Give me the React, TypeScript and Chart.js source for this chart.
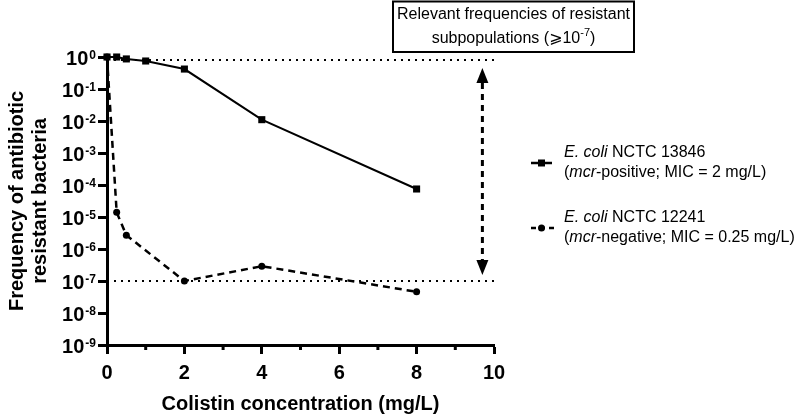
import React, { useEffect, useRef } from "react";
import { Chart, registerables } from "chart.js";

Chart.register(...registerables);

// ---- data ----
const concentrations1 = [0, 0.25, 0.5, 1, 2, 4, 8];
const freqPositive = [1, 1, 0.87, 0.75, 0.42, 0.011, 7.5e-5];
const concentrations2 = [0, 0.25, 0.5, 2, 4, 8];
const freqNegative = [1, 1.4e-5, 2.7e-6, 1e-7, 2.9e-7, 4.6e-8];
const refUpper = 0.8;
const refLower = 1e-7;
const refRange = [0, 10];
const arrowX = 9.7;
const yExponents = [0, -1, -2, -3, -4, -5, -6, -7, -8, -9];
const xMinorTicks = [1, 3, 5, 7, 9];
const xTitle = "Colistin concentration (mg/L)";
const yTitle = ["Frequency of antibiotic", "resistant bacteria"];
const boxLine1 = "Relevant frequencies of resistant";
const legend1 = { strain: "NCTC 13846", note: "-positive; MIC = 2 mg/L)" };
const legend2 = { strain: "NCTC 12241", note: "-negative; MIC = 0.25 mg/L)" };

const FONT = "'Liberation Sans', Arial, sans-serif";

function drawRuns(ctx: CanvasRenderingContext2D, runs: { t: string; f: string; dy?: number }[], x: number, y: number, align: "left" | "center") {
  let total = 0;
  for (const r of runs) { ctx.font = r.f; total += ctx.measureText(r.t).width; }
  let cx = align === "center" ? x - total / 2 : x;
  ctx.textAlign = "left";
  for (const r of runs) {
    ctx.font = r.f;
    ctx.fillText(r.t, cx, y + (r.dy || 0));
    cx += ctx.measureText(r.t).width;
  }
}

const overlayPlugin = {
  id: "overlay",
  afterDraw(chart: any) {
    const ctx: CanvasRenderingContext2D = chart.ctx;
    const xs = chart.scales.x;
    const ys = chart.scales.y;
    ctx.save();
    ctx.fillStyle = "#000";
    ctx.strokeStyle = "#000";

    // y tick labels with superscript exponents
    ctx.textBaseline = "alphabetic";
    for (const e of yExponents) {
      const py = ys.getPixelForValue(Math.pow(10, e));
      const expText = e === 0 ? "0" : "-" + Math.abs(e);
      ctx.font = `bold 12px ${FONT}`;
      const we = ctx.measureText(expText).width;
      ctx.font = `bold 20px ${FONT}`;
      const wb = ctx.measureText("10").width;
      const right = 96;
      const ex = right - we;
      ctx.textAlign = "left";
      ctx.font = `bold 20px ${FONT}`;
      ctx.fillText("10", ex - 1 - wb, py + 7.5);
      ctx.font = `bold 12px ${FONT}`;
      ctx.fillText(expText, ex, py + 2);
    }

    // minor x ticks
    ctx.lineWidth = 3;
    const bottom = chart.chartArea.bottom;
    for (const v of xMinorTicks) {
      const px = xs.getPixelForValue(v);
      ctx.beginPath();
      ctx.moveTo(px, bottom);
      ctx.lineTo(px, bottom + 5);
      ctx.stroke();
    }

    // double-headed dashed arrow
    const ax = xs.getPixelForValue(arrowX);
    const yTop = ys.getPixelForValue(refUpper) + 8;
    const yBot = ys.getPixelForValue(refLower) - 6;
    const headH = 15, headW = 6;
    ctx.lineWidth = 3;
    ctx.setLineDash([6, 5]);
    ctx.beginPath();
    ctx.moveTo(ax, yTop + headH);
    ctx.lineTo(ax, yBot - headH);
    ctx.stroke();
    ctx.setLineDash([]);
    ctx.beginPath();
    ctx.moveTo(ax, yTop);
    ctx.lineTo(ax - headW, yTop + headH);
    ctx.lineTo(ax + headW, yTop + headH);
    ctx.closePath();
    ctx.fill();
    ctx.beginPath();
    ctx.moveTo(ax, yBot);
    ctx.lineTo(ax - headW, yBot - headH);
    ctx.lineTo(ax + headW, yBot - headH);
    ctx.closePath();
    ctx.fill();

    // annotation box
    ctx.lineWidth = 2;
    ctx.strokeRect(393, 1.5, 241, 50.5);
    ctx.textBaseline = "middle";
    const bx = 513.5;
    drawRuns(ctx, [{ t: boxLine1, f: `16px ${FONT}` }], bx, 15, "center");
    drawRuns(ctx, [
      { t: "subpopulations (", f: `16px ${FONT}` },
      { t: "\u2A7E", f: `16px 'DejaVu Sans', ${FONT}` },
      { t: "10", f: `16px ${FONT}` },
      { t: "-7", f: `11px ${FONT}`, dy: -6 },
      { t: ")", f: `16px ${FONT}` },
    ], bx, 39, "center");

    // legend
    const lx0 = 531, lx1 = 552, tx = 564;
    // entry 1
    ctx.lineWidth = 2.5;
    ctx.beginPath();
    ctx.moveTo(lx0, 163);
    ctx.lineTo(lx1, 163);
    ctx.stroke();
    ctx.fillRect((lx0 + lx1) / 2 - 3.5, 163 - 3.5, 7, 7);
    drawRuns(ctx, [
      { t: "E. coli", f: `italic 16px ${FONT}` },
      { t: " " + legend1.strain, f: `16px ${FONT}` },
    ], tx, 153, "left");
    drawRuns(ctx, [
      { t: "(", f: `16px ${FONT}` },
      { t: "mcr", f: `italic 16px ${FONT}` },
      { t: legend1.note, f: `16px ${FONT}` },
    ], tx, 173, "left");
    // entry 2
    ctx.setLineDash([5, 4]);
    ctx.beginPath();
    ctx.moveTo(lx0, 228);
    ctx.lineTo(lx1 + 2, 228);
    ctx.stroke();
    ctx.setLineDash([]);
    ctx.beginPath();
    ctx.arc((lx0 + lx1) / 2, 228, 3.5, 0, Math.PI * 2);
    ctx.fill();
    drawRuns(ctx, [
      { t: "E. coli", f: `italic 16px ${FONT}` },
      { t: " " + legend2.strain, f: `16px ${FONT}` },
    ], tx, 218, "left");
    drawRuns(ctx, [
      { t: "(", f: `16px ${FONT}` },
      { t: "mcr", f: `italic 16px ${FONT}` },
      { t: legend2.note, f: `16px ${FONT}` },
    ], tx, 238, "left");

    ctx.restore();
  },
};

export default function App() {
  const ref = useRef<HTMLCanvasElement | null>(null);
  useEffect(() => {
    document.body.style.margin = "0";
    const canvas = ref.current;
    if (!canvas) return;
    const chart = new Chart(canvas, {
      type: "line",
      data: {
        datasets: [
          {
            label: "E. coli NCTC 13846",
            data: concentrations1.map((x, i) => ({ x, y: freqPositive[i] })),
            borderColor: "#000",
            backgroundColor: "#000",
            borderWidth: 2,
            pointStyle: "rect",
            pointRadius: 5,
            pointBorderWidth: 0,
            clip: false as any,
          },
          {
            label: "E. coli NCTC 12241",
            data: concentrations2.map((x, i) => ({ x, y: freqNegative[i] })),
            borderColor: "#000",
            backgroundColor: "#000",
            borderWidth: 2.5,
            borderDash: [7, 5],
            pointStyle: "circle",
            pointRadius: 3.5,
            pointBorderWidth: 0,
            clip: false as any,
          },
          {
            label: "upper",
            data: refRange.map((x) => ({ x, y: refUpper })),
            borderColor: "#000",
            borderWidth: 2,
            borderDash: [2, 5],
            pointRadius: 0,
            clip: false as any,
          },
          {
            label: "lower",
            data: refRange.map((x) => ({ x, y: refLower })),
            borderColor: "#000",
            borderWidth: 2,
            borderDash: [2, 5],
            pointRadius: 0,
            clip: false as any,
          },
        ],
      },
      options: {
        animation: false,
        responsive: true,
        maintainAspectRatio: false,
        layout: { padding: { left: 0, top: 57, right: 306, bottom: 0 } },
        plugins: { legend: { display: false }, tooltip: { enabled: false } },
        scales: {
          x: {
            type: "linear",
            min: 0,
            max: 10,
            ticks: {
              stepSize: 2,
              color: "#000",
              padding: 7,
              font: { family: FONT, size: 20, weight: "bold" },
            },
            grid: { drawOnChartArea: false, drawTicks: true, tickLength: 9, tickWidth: 3, tickColor: "#000" },
            border: { display: true, color: "#000", width: 3 },
            title: {
              display: true,
              text: xTitle,
              color: "#000",
              font: { family: FONT, size: 20, weight: "bold", lineHeight: 1.2 },
              padding: { top: 0, bottom: 1 },
            },
            afterFit: (s: any) => { s.height = 72; },
          },
          y: {
            type: "logarithmic",
            min: 1e-9,
            max: 1,
            afterBuildTicks: (s: any) => {
              s.ticks = yExponents.map((e) => ({ value: Math.pow(10, e) }));
            },
            ticks: { callback: () => "", color: "#000" },
            grid: { drawOnChartArea: false, drawTicks: true, tickLength: 9, tickWidth: 3, tickColor: "#000" },
            border: { display: true, color: "#000", width: 3 },
            title: {
              display: true,
              text: yTitle,
              color: "#000",
              font: { family: FONT, size: 20, weight: "bold", lineHeight: 1.15 },
              padding: { top: 5.5, bottom: 0 },
            },
            afterFit: (s: any) => { s.width = 107; },
          },
        },
      },
      plugins: [overlayPlugin],
    } as any);
    return () => chart.destroy();
  }, []);
  return (
    <div style={{ position: "fixed", left: 0, top: 0, width: 800, height: 417, background: "#fff" }}>
      <canvas ref={ref} />
    </div>
  );
}
